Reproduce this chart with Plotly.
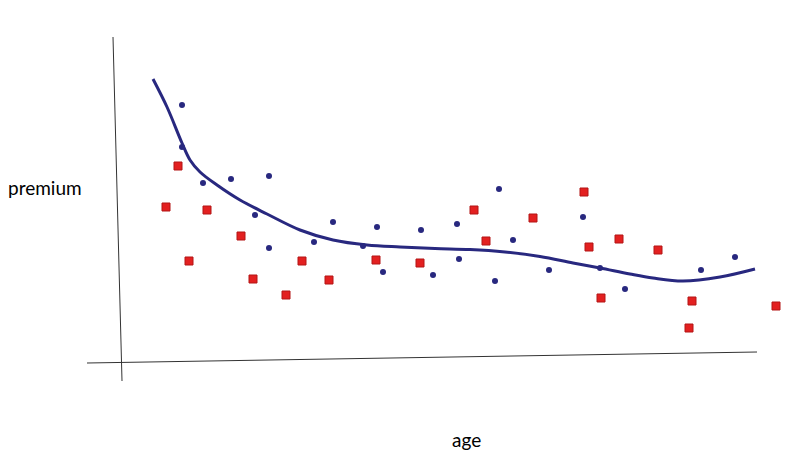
import plotly.graph_objects as go

# values (age in years, premium in arbitrary units)
blue_age = [18.2, 18.2, 20.3, 23.1, 26.9, 25.5, 26.9, 33.3, 31.4, 36.3, 37.7, 38.3,
            42.1, 43.3, 45.7, 45.9, 49.9, 49.5, 51.3, 54.9, 58.3, 60.0, 62.5, 70.1, 73.5]
blue_premium = [347, 305, 269, 273, 276, 237, 204, 230, 210, 206, 225, 180,
                222, 177, 228, 193, 263, 171, 212, 182, 235, 184, 163, 182, 195]

red_age = [17.8, 16.6, 20.7, 18.9, 24.1, 25.3, 28.6, 30.2, 32.9, 37.6, 42.0,
           47.4, 48.6, 53.3, 58.4, 58.9, 61.9, 60.1, 65.8, 69.2, 68.9, 77.6]
red_premium = [286, 245, 242, 191, 216, 173, 157, 191, 172, 192, 189,
               242, 211, 234, 260, 205, 213, 154, 202, 151, 124, 146]

fit_age = [15.3, 16.7, 18.2, 19.0, 20.0, 21.7, 24.0, 26.7, 30.0, 33.3, 36.7, 40.0,
           43.5, 47.0, 50.5, 54.0, 57.3, 60.0, 63.0, 65.3, 68.3, 72.0, 75.5]
fit_premium = [373, 345, 309, 292, 280, 267, 252, 238, 222, 212, 207, 205,
               203.5, 202.5, 200, 195.5, 189, 184, 178, 174, 171, 175, 183]

navy = '#28287f'

fig = go.Figure()

# fitted curve
fig.add_trace(go.Scatter(
    x=fit_age, y=fit_premium,
    mode='lines',
    line=dict(color=navy, width=3, shape='spline', smoothing=1.0),
    hoverinfo='skip',
))

fig.add_trace(go.Scatter(
    x=blue_age, y=blue_premium,
    mode='markers',
    marker=dict(symbol='circle', size=6, color=navy),
))

fig.add_trace(go.Scatter(
    x=red_age, y=red_premium,
    mode='markers',
    marker=dict(symbol='square', size=8, color='#e32020',
                line=dict(color='#b31515', width=1)),
))

# hand-drawn looking axes (slightly tilted)
fig.add_shape(type='line', x0=8.7, y0=89, x1=75.7, y1=100,
              line=dict(color='#333333', width=1))
fig.add_shape(type='line', x0=11.3, y0=415, x1=12.2, y1=71,
              line=dict(color='#333333', width=1))

fig.add_annotation(x=4.5, y=265, text='premium', showarrow=False,
                   font=dict(family='Lato', size=19, color='black'))
fig.add_annotation(x=46.6, y=13, text='age', showarrow=False,
                   font=dict(family='Lato', size=19, color='black'))

fig.update_layout(
    width=800,
    height=452,
    margin=dict(l=0, r=0, t=0, b=0),
    paper_bgcolor='white',
    plot_bgcolor='white',
    showlegend=False,
    xaxis=dict(range=[0, 80], visible=False),
    yaxis=dict(range=[0, 452], visible=False),
)

# drop the default page margin so the figure sits at the window corner
fig.write_html("out.html", config={'displayModeBar': False},
               post_script="document.body.style.margin='0';")
